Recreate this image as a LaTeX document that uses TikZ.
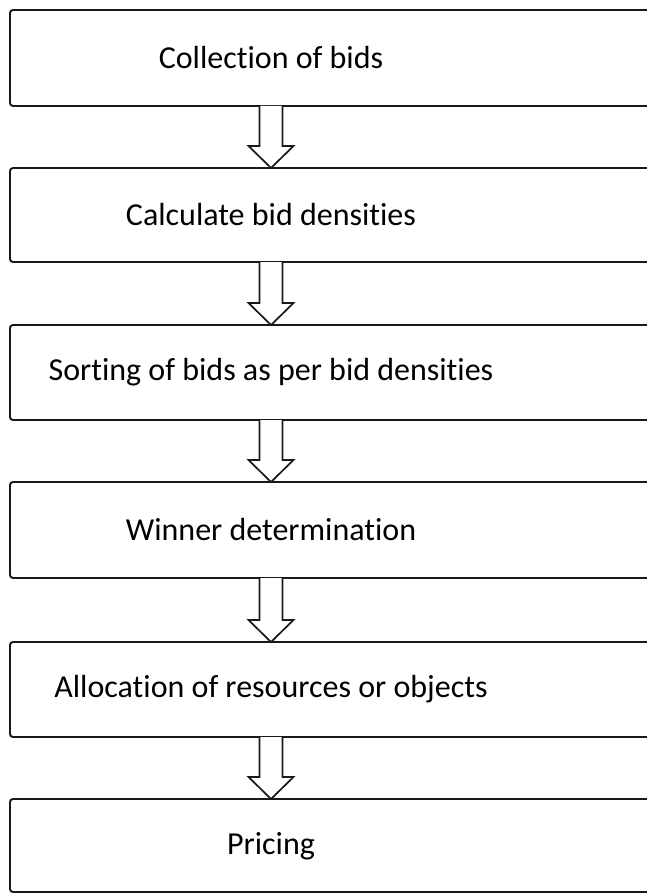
\documentclass[tikz,border=0pt]{standalone}
\usepackage{fontspec}
\setmainfont[Ligatures={NoCommon}]{Carlito}
\usetikzlibrary{calc}
\tikzset{
  stepbox/.style={draw=black!90, line width=1.9pt, rounded corners=3pt, inner sep=0pt},
  steplabel/.style={font=\fontsize{32}{38}\selectfont, inner sep=0pt, anchor=center},
  flowarrow/.style={draw=black!90, line width=1.7pt, fill=white, line join=miter}
}
\newcommand{\blockarrow}[2]{%
  \draw[flowarrow] ($(#1)+(-11.5,0)$) -- ($(#2)+(-11.5,-22)$) -- ($(#2)+(-22.5,-22)$) -- (#2)
    -- ($(#2)+(22.5,-22)$) -- ($(#2)+(11.5,-22)$) -- ($(#1)+(11.5,0)$);
}
\begin{document}
\begin{tikzpicture}[x=1pt,y=-1pt]
\useasboundingbox (0,0) rectangle (647,893);
\begin{scope}
\clip (0,0) rectangle (647,893);
\foreach \n/\top/\bot in {1/10/106, 2/168/262, 3/325/420, 4/482/578, 5/642/737, 6/799/892}{
  \draw[stepbox] (10,\top) rectangle (700,\bot);
  \coordinate (b\n n) at (271,\top);
  \coordinate (b\n s) at (271,\bot);
}
\end{scope}
\node[steplabel] (t1) at (271,58) {Collection of bids};
\node[steplabel] (t2) at (271,215) {Calculate bid densities};
\node[steplabel] (t3) at (271,372) {Sorting of bids as per bid densities};
\node[steplabel] (t4) at (271,530) {Winner determination};
\node[steplabel] (t5) at (271,689) {Allocation of resources or objects};
\node[steplabel] (t6) at (271,846) {Pricing};
\blockarrow{b1s}{b2n}
\blockarrow{b2s}{b3n}
\blockarrow{b3s}{b4n}
\blockarrow{b4s}{b5n}
\blockarrow{b5s}{b6n}
\end{tikzpicture}
\end{document}
